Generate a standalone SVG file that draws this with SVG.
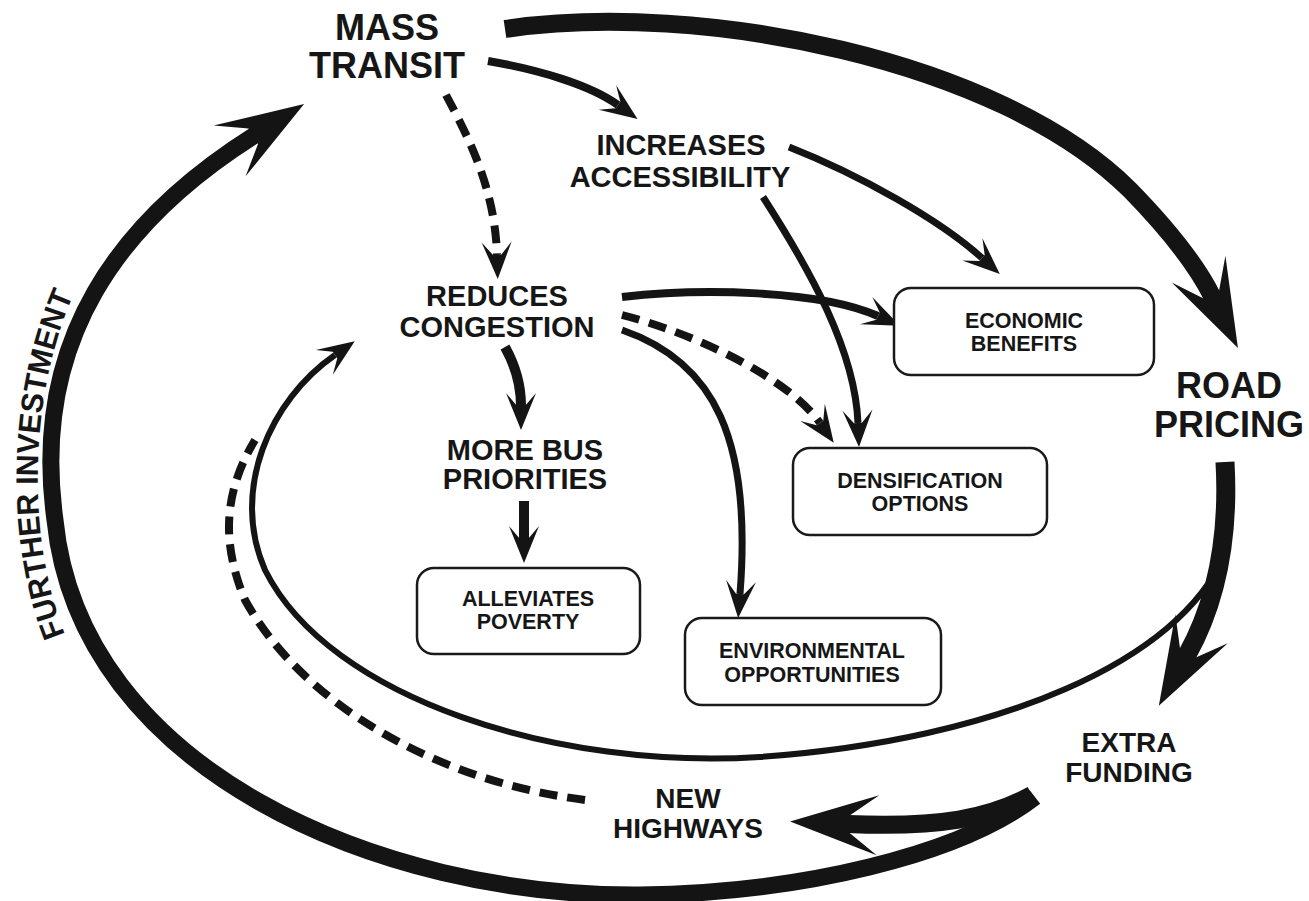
<svg xmlns="http://www.w3.org/2000/svg" width="1309" height="901" viewBox="0 0 1309 901">
<style>
.t{font-family:"Liberation Sans",Arial,sans-serif;font-weight:bold;fill:#161616;text-anchor:middle}
.big{font-size:36px}
.mid{font-size:29px}
.lab{font-size:28px}
.sm{font-size:21.5px}
.box{fill:#fff;stroke:#1a1a1a;stroke-width:2.5}
.ln{fill:none;stroke:#141414;stroke-linecap:butt}
.thin{stroke-width:7;marker-end:url(#ah)}
.dash{stroke-width:8;stroke-dasharray:18 10}
.thick{stroke-width:18;marker-end:url(#bh)}
</style>
<defs>
<marker id="ah" markerUnits="userSpaceOnUse" viewBox="-40 -17 42 34" markerWidth="42" markerHeight="34" refX="-24" refY="0" orient="auto">
<path d="M0,0 L-37,-15 L-24,-4 L-24,4 L-37,15 Z" fill="#141414"/>
</marker>
<marker id="bh" markerUnits="userSpaceOnUse" viewBox="-92 -32 96 64" markerWidth="96" markerHeight="64" refX="-58" refY="0" orient="auto">
<path d="M0,0 L-88,-30 L-60,-9 L-60,9 L-88,30 Z" fill="#141414"/>
</marker>
</defs>
<rect width="1309" height="901" fill="#fff"/>
<g id="connectors">
<path class="ln thick" d="M505,29 C700,0 1000,60 1130,190 C1172,233 1198,268 1212,296"/>
<path class="ln thin" style="stroke-width:8" d="M488,61 C540,70 590,85 618,105"/>
<path class="ln dash" style="marker-end:url(#ah)" d="M446,95 C470,140 495,190 497,255"/>
<path class="ln thin" d="M789,147 C860,175 940,220 982,258"/>
<path class="ln thin" d="M763,197 C810,270 855,350 858,423"/>
<path class="ln thin" style="stroke-width:8" d="M622,297 C700,288 820,290 878,316"/>
<path class="ln dash" style="marker-end:url(#ah)" d="M622,315 C700,335 790,380 820,423"/>
<path class="ln thin" d="M622,330 C715,362 752,440 740,594"/>
<path class="ln thin" style="stroke-width:10" d="M505,347 C515,365 521,385 521,406"/>
<path class="ln thin" style="stroke-width:10" d="M524,501 L524,539"/>
<path class="ln thin" style="stroke-width:6" d="M1224,555 C1180,660 1000,740 760,757 C560,770 330,700 265,570 C230,490 270,400 335,355"/>
<path class="ln dash" d="M585,800 C430,780 300,700 245,600 C220,540 225,490 255,440"/>
<path class="ln thick" style="stroke-width:19" d="M1225,462 C1230,550 1212,610 1187,655"/>
<path class="ln thick" style="stroke-width:18" d="M1032,795 C990,818 940,828 848,824"/>
<path class="ln thick" style="stroke-width:17" d="M1035,797 C960,855 800,893 640,895 C380,897 80,770 55,520 C30,340 120,220 255,135"/>
</g>
<g id="further-investment">
<path id="fipath" d="M72,650 C28,560 22,400 80,280" fill="none"/>
<text style="font-family:'Liberation Sans',Arial,sans-serif;font-weight:bold;font-size:31px;fill:#161616"><textPath href="#fipath" startOffset="17" textLength="348" lengthAdjust="spacingAndGlyphs">FURTHER INVESTMENT</textPath></text>
</g>
<g id="mass-transit">
<text class="t big" x="387" y="40">MASS</text>
<text class="t big" x="387" y="78">TRANSIT</text>
</g>
<g id="increases-accessibility">
<text class="t mid" x="681" y="155">INCREASES</text>
<text class="t mid" x="680" y="187">ACCESSIBILITY</text>
</g>
<g id="reduces-congestion">
<text class="t mid" x="497" y="306">REDUCES</text>
<text class="t mid" x="497" y="337">CONGESTION</text>
</g>
<g id="more-bus-priorities">
<text class="t mid" x="525" y="460">MORE BUS</text>
<text class="t mid" x="525" y="489">PRIORITIES</text>
</g>
<g id="road-pricing">
<text class="t big" x="1229" y="398">ROAD</text>
<text class="t big" x="1229" y="437">PRICING</text>
</g>
<g id="extra-funding">
<text class="t lab" x="1129" y="752">EXTRA</text>
<text class="t lab" x="1129" y="782">FUNDING</text>
</g>
<g id="new-highways">
<text class="t lab" x="688" y="808">NEW</text>
<text class="t lab" x="688" y="838">HIGHWAYS</text>
</g>
<g id="economic-benefits">
<rect class="box" x="894" y="288" width="260" height="87" rx="17"/>
<text class="t sm" x="1024" y="328">ECONOMIC</text>
<text class="t sm" x="1024" y="351">BENEFITS</text>
</g>
<g id="densification-options">
<rect class="box" x="793" y="448" width="254" height="87" rx="17"/>
<text class="t sm" x="920" y="488">DENSIFICATION</text>
<text class="t sm" x="920" y="511">OPTIONS</text>
</g>
<g id="alleviates-poverty">
<rect class="box" x="417" y="568" width="223" height="86" rx="17"/>
<text class="t sm" x="528" y="606">ALLEVIATES</text>
<text class="t sm" x="528" y="629">POVERTY</text>
</g>
<g id="environmental-opportunities">
<rect class="box" x="685" y="618" width="256" height="87" rx="17"/>
<text class="t sm" x="812" y="658">ENVIRONMENTAL</text>
<text class="t sm" x="812" y="682">OPPORTUNITIES</text>
</g>
</svg>
